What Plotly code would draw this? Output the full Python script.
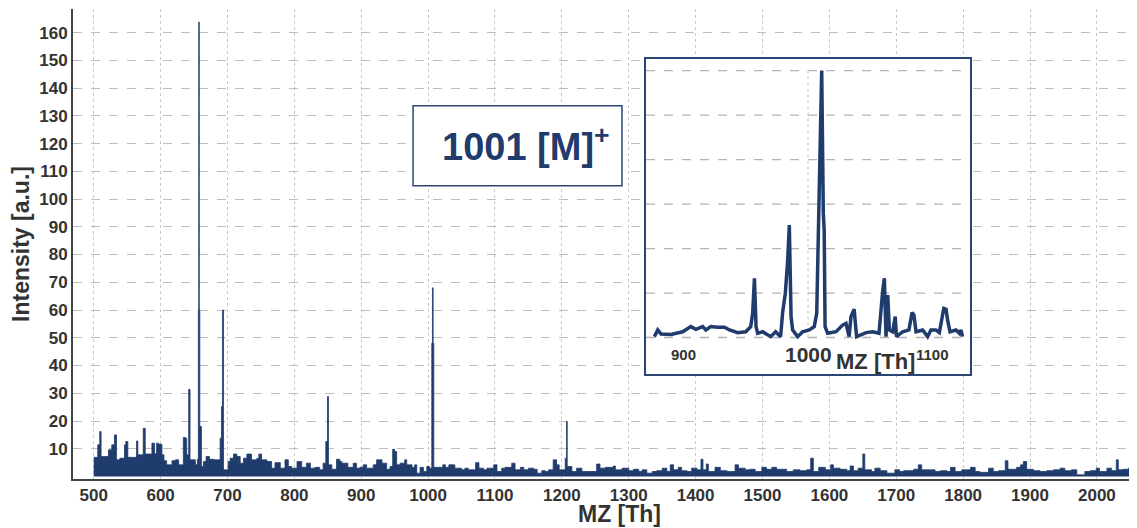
import plotly.graph_objects as go

# ---------------- main spectrum (m/z, intensity) ----------------
mz = [500, 506, 509, 511, 522, 527, 531, 534, 539, 546, 548, 551, 564, 566, 574, 577,
      587, 591, 594, 597, 602, 605, 609, 617, 622, 627, 634, 637, 639, 642, 644, 652,
      655, 656.4, 657, 657.8, 658.6, 661, 664, 668, 673, 680, 689, 691, 692.5, 694,
      701, 704, 709, 714, 719, 724, 729, 736, 744, 747, 751, 759, 766, 771, 779, 786,
      791, 796, 804, 811, 818, 824, 831, 838, 843, 847, 849.5, 851, 856, 863, 868, 871,
      880, 888, 893, 898, 903, 908, 918, 923, 931, 938, 943, 947, 950, 953, 958, 965,
      968, 976, 980, 983, 988, 993, 998, 1002, 1005.5, 1006.5, 1007.5, 1008.5, 1011,
      1022, 1026, 1031, 1036, 1040, 1050, 1055, 1060, 1071, 1076, 1083, 1088, 1098,
      1103, 1110, 1115, 1125, 1130, 1138, 1143, 1150, 1158, 1163, 1170, 1175, 1180,
      1187, 1192, 1196, 1202, 1205, 1207, 1208, 1215, 1222, 1230, 1252, 1257, 1265,
      1277, 1280, 1290, 1300, 1307, 1315, 1320, 1327, 1335, 1342, 1350, 1357, 1362,
      1367, 1374, 1379, 1387, 1394, 1402, 1408, 1411, 1416, 1419, 1429, 1437, 1447,
      1459, 1464, 1474, 1481, 1489, 1499, 1506, 1514, 1521, 1536, 1546, 1556, 1566,
      1572, 1576, 1584, 1594, 1602, 1606, 1616, 1626, 1631, 1636, 1643, 1650, 1653,
      1663, 1668, 1676, 1686, 1698, 1705, 1711, 1718, 1726, 1733, 1738, 1751, 1758,
      1766, 1776, 1781, 1788, 1798, 1805, 1811, 1818, 1825, 1838, 1845, 1853, 1863,
      1867, 1875, 1880, 1886, 1890, 1895, 1905, 1915, 1925, 1935, 1945, 1952, 1962,
      1970, 1982, 1990, 1999, 2004, 2015, 2022, 2029, 2032, 2039, 2047, 2050]
intensity = [6.9, 11.4, 16.2, 7.2, 9.6, 11.4, 15.0, 6.0, 6.6, 11.4, 12.6, 6.9, 12.8, 7.8, 17.4, 8.1,
             12.0, 8.2, 12.0, 11.6, 7.8, 5.7, 4.2, 5.7, 6.0, 4.2, 14.1, 13.8, 7.8, 31.4, 6.0, 4.2,
             6.2, 60.0, 163.8, 60.0, 18.0, 3.6, 5.4, 7.2, 6.2, 6.0, 13.8, 25.2, 60.0, 2.4,
             5.4, 6.6, 8.1, 7.2, 4.8, 6.6, 8.1, 6.0, 6.6, 8.1, 6.0, 5.4, 3.0, 5.0, 3.0, 6.0,
             3.6, 3.0, 5.4, 3.3, 4.8, 3.0, 3.3, 2.4, 4.8, 12.6, 28.8, 4.2, 2.6, 6.2, 5.4, 4.8,
             3.3, 4.8, 3.0, 3.3, 4.2, 3.0, 4.2, 6.0, 4.8, 2.6, 3.6, 9.8, 9.0, 4.2, 4.8, 6.0,
             4.2, 3.3, 4.2, 1.2, 3.3, 1.8, 3.6, 3.0, 48.0, 68.0, 48.0, 3.3, 3.3,
             4.2, 3.3, 4.2, 4.2, 3.0, 2.4, 3.0, 2.4, 5.0, 3.0, 2.4, 3.0, 4.2,
             1.8, 3.0, 3.3, 4.8, 2.4, 3.3, 2.4, 3.0, 2.6, 1.2, 2.1, 1.8, 2.4,
             6.0, 4.2, 2.4, 2.4, 6.6, 19.8, 3.6, 1.8, 3.0, 1.8, 4.5, 3.0, 3.3,
             3.8, 2.4, 3.0, 2.1, 2.6, 1.8, 2.4, 1.2, 1.8, 2.1, 3.0, 1.8, 4.2,
             2.4, 3.3, 2.1, 1.8, 3.0, 2.4, 6.2, 2.4, 4.5, 1.8, 3.3, 2.1, 1.8,
             4.2, 3.0, 2.4, 2.6, 1.8, 3.3, 2.6, 3.3, 2.6, 1.8, 2.4, 2.1, 2.4,
             6.6, 1.8, 3.3, 2.4, 4.2, 3.0, 2.6, 2.1, 3.8, 2.1, 3.0, 8.1, 2.4,
             1.8, 3.0, 2.1, 1.2, 2.4, 1.8, 2.1, 2.1, 2.6, 4.2, 2.4, 2.4, 1.8,
             2.1, 1.8, 3.3, 1.8, 2.4, 2.4, 3.3, 1.8, 1.5, 3.0, 1.8, 2.1, 5.7,
             2.6, 2.6, 3.3, 4.2, 5.4, 2.6, 2.1, 1.8, 2.1, 2.4, 3.0, 2.1, 2.4,
             0.6, 1.8, 2.1, 3.0, 1.8, 3.0, 2.1, 6.0, 2.4, 2.6, 3.0, 3.0]

# ---------------- inset spectrum (zoom around 1001) ----------------
inset_mz = [876.7, 879.4, 882, 890, 899.4, 906, 910, 915.5, 918, 922, 927.5, 933, 937, 943.6,
            950, 954, 955.6, 957, 958.3, 959.6, 963.6, 970, 974, 978, 979.7, 981.8, 983.7,
            985, 986.4, 987.7, 991.7, 995.7, 1001, 1005, 1007, 1008.3, 1009.7, 1011, 1012.3,
            1013, 1013.7, 1015.8, 1022.5, 1027.8, 1030.5, 1033, 1034.5, 1037, 1039, 1046.6,
            1052, 1057, 1060, 1061.3, 1062.6, 1064, 1065.3, 1068, 1070, 1071, 1076, 1081,
            1083.5, 1085, 1086.7, 1092, 1096, 1098.7, 1102.7, 1105.4, 1109, 1110.8, 1112,
            1114, 1118.8, 1121.5, 1122.8, 1124]
inset_int = [0.4, 3.4, 1.6, 1.4, 2.6, 4.9, 3.7, 4.9, 3.4, 4.9, 4.6, 4.6, 3.4, 2.2,
             2.6, 4.9, 10.9, 26.6, 4.9, 1.9, 2.6, 0.4, 2.6, 0.4, 11.6, 19.9, 34.8,
             50.6, 9.4, 3.4, 0.4, 2.6, 3.4, 4.9, 10.9, 49.8, 73.8, 120.0, 55.8,
             48.0, 4.9, 1.9, 2.6, 5.6, 6.4, 0.4, 9.4, 12.7, 0.4, 2.2,
             2.6, 1.9, 21.3, 26.6, 0.4, 19.1, 3.4, 2.6, 9.4, 0.4, 2.6, 3.4,
             11.2, 10.1, 2.6, 3.4, 0.4, 3.4, 3.4, 2.2, 13.1, 12.7, 7.9,
             2.6, 3.4, 1.9, 3.4, 0.4]

x_ticks = [500, 600, 700, 800, 900, 1000, 1100, 1200, 1300, 1400, 1500, 1600, 1700, 1800, 1900, 2000]
y_ticks = [10, 20, 30, 40, 50, 60, 70, 80, 90, 100, 110, 120, 130, 140, 150, 160]
inset_x_labels = [900, 1000, 1100]
inset_grid = [0, 20, 40, 60, 80, 100, 120]
inset_xrange = [870, 1130]
inset_yrange = [-16.4, 125.2]

NAVY = "#1f3c6c"
BOX = "#2a4675"
TXT = "#333333"
FONT = "Liberation Sans, Arial, sans-serif"

fig = go.Figure()
fig.add_trace(go.Scatter(
    x=mz, y=intensity, mode="lines", line=dict(color=NAVY, width=0.8, shape="hv"),
    fill="tozeroy", fillcolor=NAVY, showlegend=False, hoverinfo="skip"))

fig.add_trace(go.Scatter(
    x=inset_mz, y=inset_int, mode="lines", line=dict(color=NAVY, width=3.5),
    xaxis="x2", yaxis="y2", showlegend=False, hoverinfo="skip"))

# the page body adds an 8px offset, so the figure is 8px smaller than the window
fig.update_layout(
    width=1129, height=520,
    margin=dict(l=65, r=4, t=1, b=49, autoexpand=False),
    paper_bgcolor="white", plot_bgcolor="white",
    font=dict(family=FONT, color=TXT),
    xaxis=dict(
        range=[469, 2054], tickvals=x_ticks, ticks="", automargin=False,
        tickfont=dict(size=17, color=TXT, weight="bold"),
        showgrid=True, gridcolor="#c8c8c8", griddash="dot", gridwidth=1,
        showline=True, linecolor="#444444", linewidth=2, zeroline=False,
    ),
    yaxis=dict(
        range=[-0.9, 168.5], tickvals=y_ticks, ticks="", automargin=False,
        tickfont=dict(size=17, color=TXT, weight="bold"),
        showgrid=True, gridcolor="#bdbdbd", griddash="dash", gridwidth=1.2,
        showline=True, linecolor="#444444", linewidth=2, zeroline=False,
        title=dict(text="Intensity [a.u.]", font=dict(size=23, color=TXT, weight="bold"), standoff=6),
    ),
    xaxis2=dict(
        domain=[0.5406, 0.8462], anchor="y2", range=inset_xrange, automargin=False,
        showticklabels=False, ticks="", showgrid=False,
        showline=True, mirror=True, linecolor=BOX, linewidth=1.5, zeroline=False,
    ),
    yaxis2=dict(
        domain=[0.2234, 0.8936], anchor="x2", range=inset_yrange, automargin=False,
        showticklabels=False, ticks="", showgrid=False,
        showline=True, mirror=True, linecolor=BOX, linewidth=1.5, zeroline=False,
    ),
)

# x-axis title of the main chart
fig.add_annotation(xref="paper", yref="paper", x=0.5151, y=-0.0745, showarrow=False,
                   text="<b>MZ [Th]</b>", font=dict(size=23, color=TXT, family=FONT),
                   xanchor="center", yanchor="middle")

# inset gridlines (drawn in the inset subplot, beneath its trace)
for g in inset_grid:
    fig.add_shape(type="line", xref="x2", yref="y2", x0=inset_xrange[0], x1=inset_xrange[1],
                  y0=g, y1=g, line=dict(color="#b4b4b4", width=1.3, dash="dash"), layer="below")
fig.add_shape(type="line", xref="x2", yref="y2", x0=1000, x1=1000, y0=0, y1=inset_grid[-1],
              line=dict(color="#bdbdbd", width=1, dash="dot"), layer="below")

# label box "1001 [M]+"
fig.add_shape(type="rect", xref="paper", yref="paper", x0=0.3208, x1=0.5179, y0=0.624, y1=0.7943,
              line=dict(color=BOX, width=1.5), fillcolor="white", layer="above")
fig.add_annotation(xref="paper", yref="paper", x=0.4274, y=0.712, showarrow=False,
                   text="<b>1001 [M]<sup>+</sup></b>", font=dict(size=38, color=NAVY, family=FONT),
                   xanchor="center", yanchor="middle")

# inset labels
for v in inset_x_labels:
    size = 21 if v == 1000 else 15
    fig.add_annotation(xref="x2", yref="y2", x=v, y=-7.7, showarrow=False,
                       text=f"<b>{v}</b>", font=dict(size=size, color=TXT, family=FONT),
                       xanchor="center", yanchor="middle")
fig.add_annotation(xref="x2", yref="y2", x=1053.8, y=-11.0, showarrow=False,
                   text="<b>MZ [Th]</b>", font=dict(size=22, color=TXT, family=FONT),
                   xanchor="center", yanchor="middle")

fig.write_html("out.html")
